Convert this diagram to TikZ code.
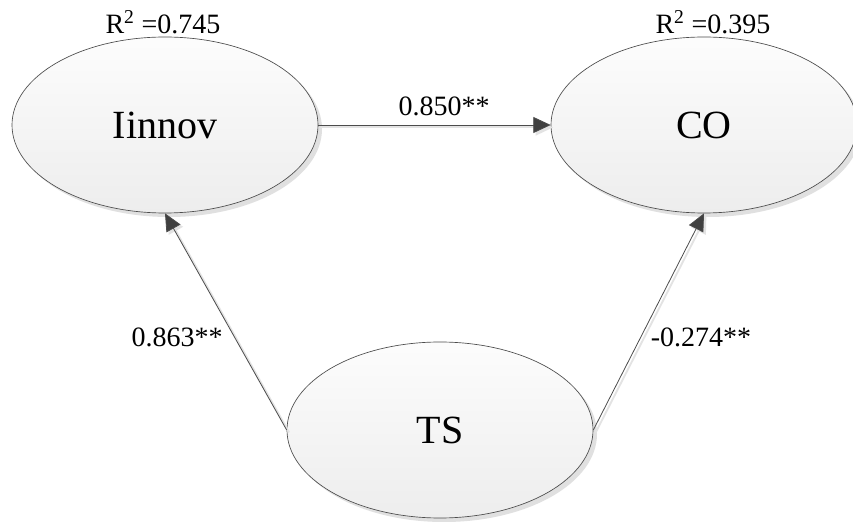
\documentclass[tikz,border=0pt]{standalone}
\usepackage{fontspec}
\setmainfont{Liberation Serif}
\usetikzlibrary{shapes.geometric,arrows.meta,shadows}
\begin{document}
\begin{tikzpicture}[x=0.75pt,y=-0.75pt,
  latent/.style={ellipse, draw=black!70, line width=0.5pt,
    minimum width=229.5pt, minimum height=132pt, inner sep=0pt,
    top color=black!1, bottom color=black!7,
    drop shadow={shadow xshift=3pt, shadow yshift=-3pt, fill=black!12, opacity=1},
    font=\fontsize{30}{36}\selectfont},
  conn/.style={draw=black!70, line width=0.6pt,
    -{Triangle[length=13pt,width=12pt,fill=black!75]}},
  connshadow/.style={draw=black!11, line width=1.4pt,
    -{Triangle[length=13pt,width=12pt]},
    transform canvas={xshift=1.8pt,yshift=-1.8pt}},
  coef/.style={font=\fontsize{21}{25}\selectfont, inner sep=0pt}
]
\fill[white] (0,0) rectangle (853,523);
\useasboundingbox (0,0) rectangle (853,523);

\node[latent] (Iinnov) at (165,125) {Iinnov};
\node[latent] (CO) at (704,125) {CO};
\node[latent] (TS) at (440,430) {TS};

\node[coef] (r1) at (163,22) {R\textsuperscript{2} =0.745};
\node[coef] (r2) at (713,22) {R\textsuperscript{2} =0.395};

\draw[connshadow] (Iinnov.east) -- (CO.west);
\draw[connshadow] (TS.west) -- (Iinnov.south);
\draw[connshadow] (TS.east) -- (CO.south);

\draw[conn] (Iinnov.east) -- (CO.west);
\draw[conn] (TS.west) -- (Iinnov.south);
\draw[conn] (TS.east) -- (CO.south);

\node[coef] (c1) at (444,106) {0.850**};
\node[coef] (c2) at (177,337) {0.863**};
\node[coef] (c3) at (701,337) {-0.274**};
\end{tikzpicture}
\end{document}
